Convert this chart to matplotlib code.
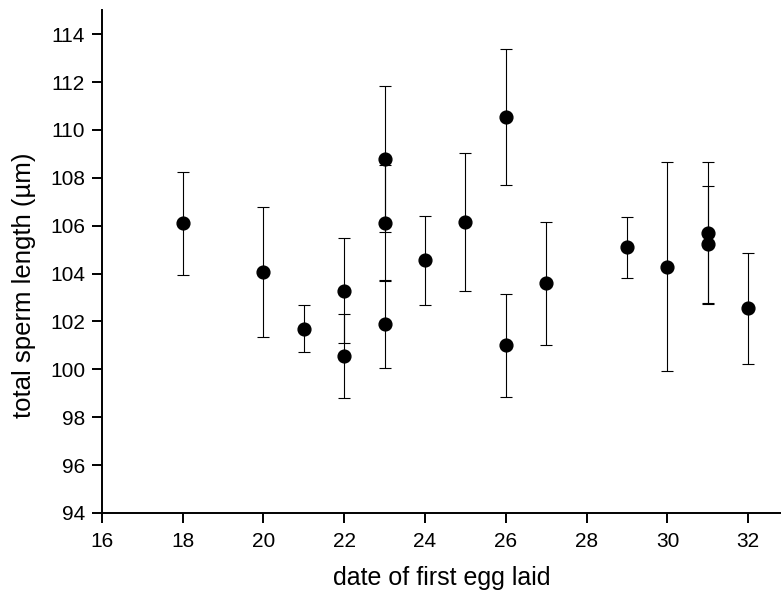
import matplotlib
matplotlib.use("Agg")
import matplotlib.pyplot as plt

plt.rcParams['font.family'] = ['Liberation Sans', 'DejaVu Sans']

# date of first egg laid for each male
dates = [18, 20, 21, 22, 22, 23, 23, 23, 24, 25, 26, 26, 27, 29, 30, 31, 31, 32]
# mean total sperm length (µm)
mean_len = [106.12, 104.07, 101.70, 103.27, 100.55, 108.77, 106.12, 101.88, 104.55,
            106.15, 110.55, 101.00, 103.59, 105.11, 104.28, 105.68, 105.22, 102.55]
# upper and lower ends of the error bars (µm)
upper = [108.24, 106.79, 102.68, 105.47, 102.30, 111.82, 108.54, 103.72, 106.40,
         109.02, 113.40, 103.16, 106.16, 106.37, 108.67, 108.68, 107.65, 104.88]
lower = [103.95, 101.34, 100.73, 101.09, 98.81, 105.72, 103.68, 100.04, 102.67,
         103.28, 107.70, 98.86, 101.00, 103.80, 99.93, 102.71, 102.76, 100.22]

xticks = [16, 18, 20, 22, 24, 26, 28, 30, 32]
yticks = [94, 96, 98, 100, 102, 104, 106, 108, 110, 112, 114]

yerr = [[m - lo for m, lo in zip(mean_len, lower)],
        [up - m for m, up in zip(mean_len, upper)]]

fig = plt.figure(figsize=(7.81, 5.91), dpi=100)
ax = fig.add_axes([0.1302, 0.132, 0.8698, 0.851])

ax.errorbar(dates, mean_len, yerr=yerr, fmt='o', color='black', ecolor='black',
            markersize=9.2, elinewidth=0.8, capsize=4, capthick=0.8, zorder=3)

ax.set_xlim(16, 32.81)
ax.set_ylim(94, 115.01)
ax.set_xticks(xticks)
ax.set_yticks(yticks)

for side in ('top', 'right'):
    ax.spines[side].set_visible(False)
for side in ('left', 'bottom'):
    ax.spines[side].set_linewidth(1.4)

ax.tick_params(axis='both', direction='out', length=7, width=1.4,
               labelsize=15)
ax.tick_params(axis='x', pad=6.5)
ax.tick_params(axis='y', pad=5)

ax.set_xlabel('date of first egg laid', fontsize=18)
ax.set_ylabel('total sperm length (µm)', fontsize=18.5)
ax.xaxis.set_label_coords(0.5, -0.106)
ax.yaxis.set_label_coords(-0.097, 0.452)

fig.savefig('out.png', dpi=100)
